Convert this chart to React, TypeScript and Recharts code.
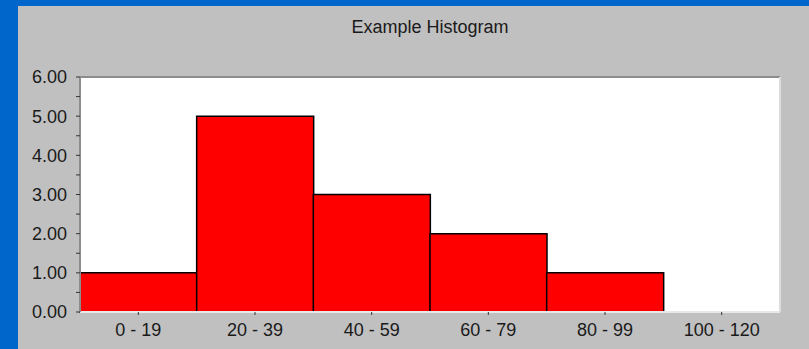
import { BarChart, Bar, XAxis, YAxis, CartesianGrid } from 'recharts';

const categories = ['0 - 19', '20 - 39', '40 - 59', '60 - 79', '80 - 99', '100 - 120'];
const counts = [1, 5, 3, 2, 1, 0];
const yTicks = [0, 0.5, 1, 1.5, 2, 2.5, 3, 3.5, 4, 4.5, 5, 5.5, 6];

const data = categories.map((range, i) => ({ range, count: counts[i] }));

const FONT = '"Liberation Sans", Arial, sans-serif';

const fmtY = (v: number) => (Number.isInteger(v) ? v.toFixed(2) : '');

export default function App() {
  return (
    <div style={{ position: 'absolute', left: 0, top: 0, width: 809, height: 349, background: '#0066CC', overflow: 'hidden' }}>
      <div style={{ position: 'absolute', left: 18, top: 6, width: 791, height: 343, background: '#C0C0C0', fontFamily: FONT }}>
        <div style={{ position: 'absolute', left: 62, top: 11, width: 700, textAlign: 'center', fontSize: 18, color: '#1a1a1a' }}>
          Example Histogram
        </div>
        <BarChart
          width={791}
          height={343}
          data={data}
          barCategoryGap={0}
          margin={{ top: 70, right: 28, bottom: 0, left: 0 }}
          style={{ fontFamily: FONT }}
        >
          <CartesianGrid fill="#FFFFFF" horizontal={false} vertical={false} />
          <XAxis
            dataKey="range"
            height={37}
            interval={0}
            tickSize={3}
            tickMargin={8}
            tick={{ fontSize: 18, fill: '#1a1a1a' }}
            tickLine={{ stroke: '#333' }}
            axisLine={{ stroke: '#E8E8E8', strokeWidth: 2 }}
          />
          <XAxis
            xAxisId="top"
            dataKey="range"
            orientation="top"
            height={1}
            tick={false}
            tickLine={false}
            axisLine={{ stroke: '#8C8C8C', strokeWidth: 2 }}
          />
          <YAxis
            width={62}
            domain={[0, 6]}
            ticks={yTicks}
            interval={0}
            tickFormatter={fmtY}
            tickSize={4}
            tickMargin={9}
            tick={{ fontSize: 18, fill: '#1a1a1a' }}
            tickLine={{ stroke: '#333' }}
            axisLine={{ stroke: '#8C8C8C', strokeWidth: 2 }}
          />
          <YAxis
            yAxisId="right"
            orientation="right"
            width={1}
            domain={[0, 6]}
            tick={false}
            tickLine={false}
            axisLine={{ stroke: '#DCDCDC', strokeWidth: 2 }}
          />
          <Bar dataKey="count" fill="#FF0000" stroke="#000000" strokeWidth={1.5} isAnimationActive={false} />
        </BarChart>
      </div>
    </div>
  );
}
